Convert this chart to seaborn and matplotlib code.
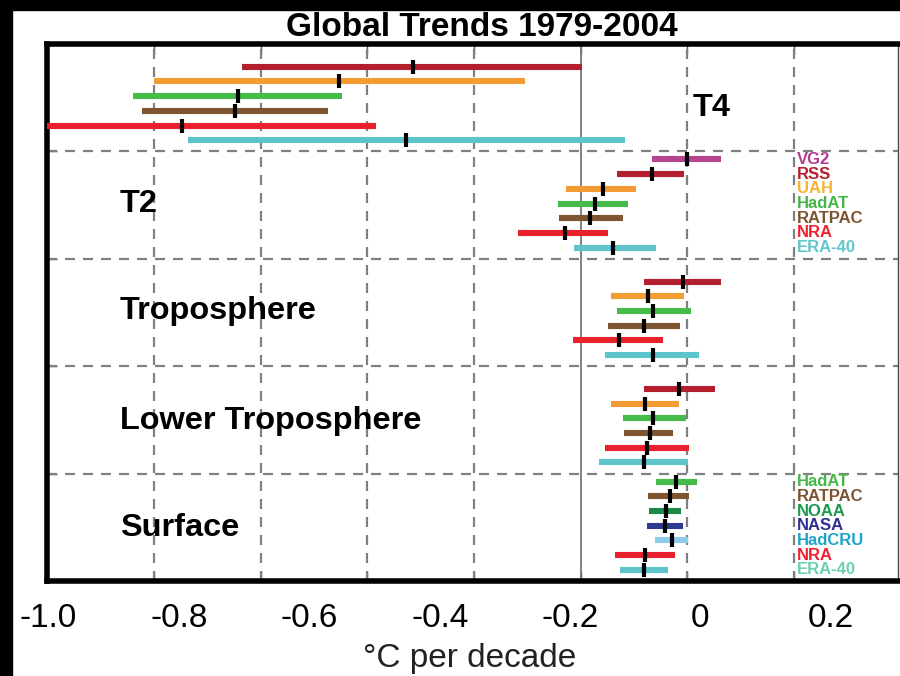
import matplotlib
matplotlib.use("Agg")
import matplotlib.pyplot as plt
from matplotlib.patches import Rectangle
import numpy as np
import pandas as pd
import seaborn as sns

# ---------------- data ----------------
panels = ["T4", "T2", "Troposphere", "Lower Troposphere", "Surface"]

t4_names = ["RSS", "UAH", "HadAT", "RATPAC", "NRA", "ERA-40"]
t4_center = [-0.315, -0.453, -0.643, -0.648, -0.748, -0.328]
t4_low = [-0.635, -0.800, -0.840, -0.823, -1.000, -0.736]
t4_high = [0.002, -0.104, -0.448, -0.474, -0.383, 0.083]

t2_names = ["VG2", "RSS", "UAH", "HadAT", "RATPAC", "NRA", "ERA-40"]
t2_center = [0.200, 0.134, 0.042, 0.027, 0.017, -0.030, 0.061]
t2_low = [0.133, 0.069, -0.028, -0.042, -0.040, -0.117, -0.012]
t2_high = [0.263, 0.194, 0.104, 0.088, 0.080, 0.052, 0.141]

trop_names = ["RSS", "UAH", "HadAT", "RATPAC", "NRA", "ERA-40"]
trop_center = [0.192, 0.127, 0.135, 0.118, 0.071, 0.136]
trop_low = [0.119, 0.057, 0.069, 0.052, -0.015, 0.046]
trop_high = [0.263, 0.194, 0.206, 0.186, 0.155, 0.221]

lt_names = ["RSS", "UAH", "HadAT", "RATPAC", "NRA", "ERA-40"]
lt_center = [0.184, 0.121, 0.136, 0.130, 0.125, 0.119]
lt_low = [0.119, 0.057, 0.079, 0.081, 0.046, 0.034]
lt_high = [0.252, 0.185, 0.197, 0.173, 0.204, 0.202]

sfc_names = ["HadAT", "RATPAC", "NOAA", "NASA", "HadCRU", "NRA", "ERA-40"]
sfc_center = [0.178, 0.167, 0.160, 0.159, 0.171, 0.121, 0.119]
sfc_low = [0.141, 0.126, 0.129, 0.124, 0.140, 0.064, 0.073]
sfc_high = [0.219, 0.204, 0.189, 0.191, 0.202, 0.177, 0.163]

t2_legend = ["VG2", "RSS", "UAH", "HadAT", "RATPAC", "NRA", "ERA-40"]
sfc_legend = ["HadAT", "RATPAC", "NOAA", "NASA", "HadCRU", "NRA", "ERA-40"]

tick_values = [-1.0, -0.8, -0.6, -0.4, -0.2, 0.0, 0.2]
tick_labels = ["-1.0", "-0.8", "-0.6", "-0.4", "-0.2", "0", "0.2"]

bar_colors = {
    "VG2": "#b5458f", "RSS": "#b31f2e", "UAH": "#f39c33", "HadAT": "#45bb4a",
    "RATPAC": "#7d5531", "NRA": "#e9212d", "ERA-40": "#5cc5cc",
    "NOAA": "#1b8a45", "NASA": "#2e3a8f", "HadCRU": "#8ecbea",
}
legend_colors_t2 = {
    "VG2": "#b43c8e", "RSS": "#b8202e", "UAH": "#f7b532", "HadAT": "#46b649",
    "RATPAC": "#7b5430", "NRA": "#ee2230", "ERA-40": "#5ec6cc",
}
legend_colors_sfc = {
    "HadAT": "#46b649", "RATPAC": "#7b5430", "NOAA": "#1a9a4a", "NASA": "#2e3092",
    "HadCRU": "#1fa3c9", "NRA": "#ee2230", "ERA-40": "#6ccfb4",
}

# ---------------- layout helpers ----------------
PH = 107.4 / 14.7     # panel height in row-slot units
OFF = 0.55            # first slot offset inside a panel

panel_data = [
    (t4_names, t4_center, t4_low, t4_high),
    (t2_names, t2_center, t2_low, t2_high),
    (trop_names, trop_center, trop_low, trop_high),
    (lt_names, lt_center, lt_low, lt_high),
    (sfc_names, sfc_center, sfc_low, sfc_high),
]

rows = []
for p, (names, c, lo, hi) in enumerate(panel_data):
    start_slot = 7 - len(names)
    for k, n in enumerate(names):
        rows.append(dict(panel=panels[p], name=n, center=c[k], low=lo[k], high=hi[k],
                         y=p * PH + OFF + start_slot + k))
df = pd.DataFrame(rows)

# ---------------- figure ----------------
sns.set_theme(style="white")
plt.rcParams["font.family"] = ["Liberation Sans", "DejaVu Sans"]

W, H = 900, 676
fig = plt.figure(figsize=(9, 6.76), dpi=100, facecolor="white")

x_to_px = lambda x: 580.7 + 533.3 * x
left_px, right_px, top_px, bot_px = 47.4, 898.0, 44.0, 581.0
ax = fig.add_axes([left_px / W, 1 - bot_px / H, (right_px - left_px) / W, (bot_px - top_px) / H])
ax.set_facecolor("white")
ax.set_xlim(-1.0, (right_px - 580.7) / 533.3)
ax.set_ylim(5 * PH, 0)

# grid lines
grid_x = [-0.8, -0.6, -0.4, -0.2, 0.2, 0.4]
for gx in grid_x:
    ax.axvline(gx, color="#808080", lw=1.6, ls=(0, (4.5, 3.6)), zorder=1)
ax.axvline(0.0, color="#777777", lw=1.3, zorder=1)
for k in range(1, 5):
    ax.axhline(k * PH, color="#808080", lw=1.6, ls=(0, (4.5, 3.6)), zorder=1)

# bars
for _, r in df.iterrows():
    ax.hlines(r["y"], r["low"], r["high"], colors=bar_colors[r["name"]], lw=4.4,
              zorder=3, capstyle="butt")

# center markers
sns.scatterplot(data=df, x="center", y="y", marker="|", s=88, color="black",
                linewidth=3.0, legend=False, zorder=5, ax=ax)

ax.set_xlabel("")
ax.set_ylabel("")

# panel labels
label_pos = [(0.21, 115.5), (-0.864, 211.5), (-0.864, 318.5), (-0.864, 429.5), (-0.864, 536.5)]
for name, (lx, py) in zip(panels, label_pos):
    ax.text(lx, (py - top_px) / 14.7, name, fontsize=23.4, fontweight="bold",
            color="black", ha="left", va="baseline", zorder=6)

# in-plot legends
leg_x = (797 - 580.7) / 533.3
for k, n in enumerate(t2_legend):
    ax.text(leg_x, 1 * PH + OFF + k, n, color=legend_colors_t2[n], fontsize=12,
            fontweight="bold", ha="left", va="center", zorder=6)
for k, n in enumerate(sfc_legend):
    ax.text(leg_x, 4 * PH + OFF + k, n, color=legend_colors_sfc[n], fontsize=12,
            fontweight="bold", ha="left", va="center", zorder=6)

# spines and ticks
for s in ["left", "top", "bottom"]:
    ax.spines[s].set_linewidth(4.0)
    ax.spines[s].set_color("black")
ax.spines["right"].set_linewidth(1.0)
ax.spines["right"].set_color("#444444")

ax.set_xticks(grid_x + [0.0])
ax.set_xticklabels([])
ax.set_yticks([k * PH for k in range(1, 5)])
ax.set_yticklabels([])
ax.tick_params(axis="x", which="both", direction="in", length=7, width=1.0,
               color="#555555", top=True, bottom=True)
ax.tick_params(axis="y", which="both", direction="in", length=7, width=1.0,
               color="#555555", left=True, right=False)

# displayed tick labels (as they appear in the original figure)
LBL0, LBLS = 48.5, 652.0

def fwd(x):
    return (x_to_px(np.asarray(x)) - LBL0) / LBLS - 1.0

def inv(v):
    return (LBL0 + (np.asarray(v) + 1.0) * LBLS - 580.7) / 533.3

sec = ax.secondary_xaxis("bottom", functions=(fwd, inv))
sec.set_xticks(tick_values)
sec.set_xticklabels(tick_labels)
sec.tick_params(axis="x", length=0, pad=16, labelsize=24, labelcolor="black")
sec.spines["bottom"].set_visible(False)

fig.text(470 / W, 1 - 667 / H, "°C per decade", fontsize=24, color="#222222",
         ha="center", va="baseline")

# title
fig.text(482 / W, 1 - 36 / H, "Global Trends 1979-2004", fontsize=24, fontweight="bold",
         ha="center", va="baseline", color="black")

# black strips at the top and left edges of the original image
fig.add_artist(Rectangle((0, 1 - 10 / H), 1, 10 / H, transform=fig.transFigure,
                         color="black", zorder=10))
fig.add_artist(Rectangle((0, 0), 12 / W, 1, transform=fig.transFigure,
                         color="black", zorder=10))

fig.savefig("out.png", dpi=100, facecolor="white")
